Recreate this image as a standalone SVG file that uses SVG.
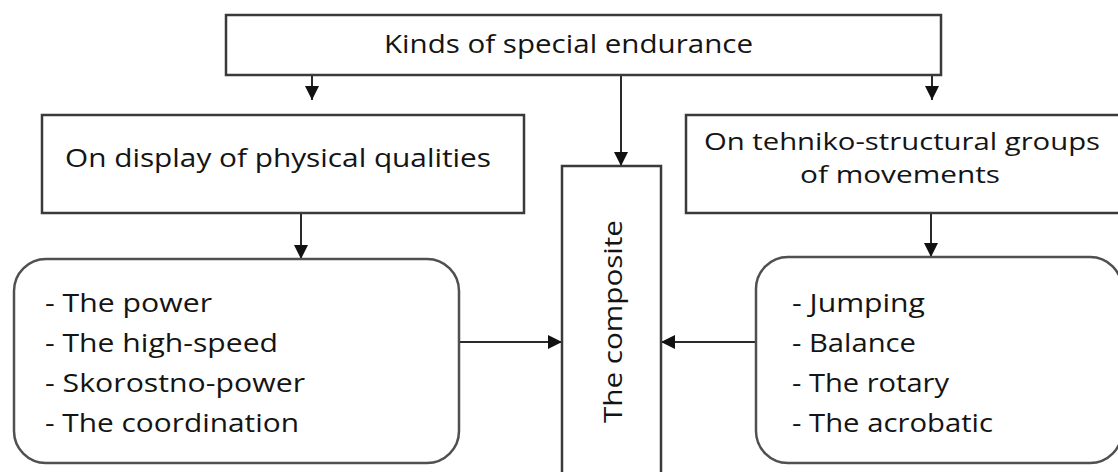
<svg xmlns="http://www.w3.org/2000/svg" width="1118" height="472" viewBox="0 0 1118 472">
<style>
.box{fill:#fff;stroke:#3a3a3a;stroke-width:2.5}
.rbox{fill:#fff;stroke:#505050;stroke-width:2.5}
.t{font-family:"Open Sans","Noto Sans",sans-serif;font-size:26px;fill:#141414}
.s{font-size:24px}
.c{stroke:#2a2a2a;stroke-width:2;fill:none;marker-end:url(#ah)}
</style>
<defs>
<marker id="ah" markerUnits="userSpaceOnUse" markerWidth="14" markerHeight="14" viewBox="0 0 12 12" refX="12" refY="6" orient="auto">
<path d="M0,0 L12,6 L0,12 Z" fill="#111"/>
</marker>
</defs>
<rect width="1118" height="472" fill="#fff"/>
<g id="connectors">
<line class="c" x1="312" y1="75" x2="312" y2="100"/>
<line class="c" x1="932" y1="75" x2="932" y2="100"/>
<line class="c" x1="621" y1="75" x2="621" y2="166"/>
<line class="c" x1="301" y1="213" x2="301" y2="259"/>
<line class="c" x1="931" y1="213" x2="931" y2="257"/>
<line class="c" x1="459" y1="342" x2="562" y2="342"/>
<line class="c" x1="756" y1="342" x2="661" y2="342"/>
</g>
<g id="kinds">
<rect class="box" x="226" y="15" width="715" height="60"/>
<text class="t" x="384" y="53" textLength="369" lengthAdjust="spacingAndGlyphs">Kinds of special endurance</text>
</g>
<g id="physical">
<rect class="box" x="42" y="115" width="482" height="98"/>
<text class="t" x="65" y="167" textLength="426" lengthAdjust="spacingAndGlyphs">On display of physical qualities</text>
</g>
<g id="technical">
<rect class="box" x="686" y="115" width="450" height="98"/>
<text class="t s" x="704" y="150" textLength="396" lengthAdjust="spacingAndGlyphs">On tehniko-structural groups</text>
<text class="t s" x="800" y="183" textLength="200" lengthAdjust="spacingAndGlyphs">of movements</text>
</g>
<g id="composite">
<rect class="box" x="562" y="166" width="99" height="320"/>
<text class="t" transform="translate(622,423) rotate(-90)" x="0" y="0" textLength="203" lengthAdjust="spacingAndGlyphs">The composite</text>
</g>
<g id="physical-list">
<rect class="rbox" x="14" y="259" width="445" height="204" rx="32" ry="32"/>
<text class="t" x="45" y="312" textLength="167" lengthAdjust="spacingAndGlyphs">- The power</text>
<text class="t" x="45" y="352" textLength="233" lengthAdjust="spacingAndGlyphs">- The high-speed</text>
<text class="t" x="45" y="392" textLength="260" lengthAdjust="spacingAndGlyphs">- Skorostno-power</text>
<text class="t" x="45" y="432" textLength="254" lengthAdjust="spacingAndGlyphs">- The coordination</text>
</g>
<g id="technical-list">
<rect class="rbox" x="756" y="257" width="366" height="206" rx="32" ry="32"/>
<text class="t" x="792" y="312" textLength="133" lengthAdjust="spacingAndGlyphs">- Jumping</text>
<text class="t" x="792" y="352" textLength="124" lengthAdjust="spacingAndGlyphs">- Balance</text>
<text class="t" x="792" y="392" textLength="157" lengthAdjust="spacingAndGlyphs">- The rotary</text>
<text class="t" x="792" y="432" textLength="201" lengthAdjust="spacingAndGlyphs">- The acrobatic</text>
</g>
</svg>
